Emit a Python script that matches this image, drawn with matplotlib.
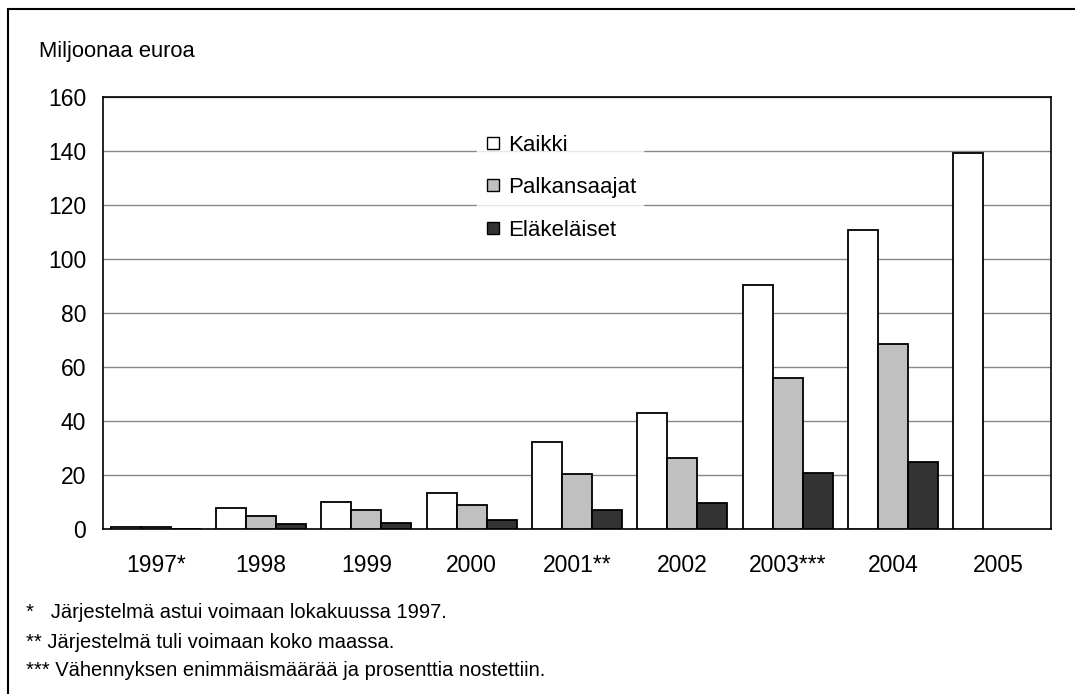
import matplotlib
matplotlib.use("Agg")
import matplotlib.pyplot as plt
from matplotlib.patches import Rectangle
from matplotlib.lines import Line2D
import numpy as np

plt.rcParams['font.family'] = ['Liberation Sans', 'DejaVu Sans']

years = ["1997*", "1998", "1999", "2000", "2001**", "2002", "2003***", "2004", "2005"]
kaikki = [0.8, 7.7, 10.0, 13.4, 32.4, 43.0, 90.5, 110.7, 139.4]
palkansaajat = [0.6, 5.0, 7.2, 9.0, 20.5, 26.4, 56.1, 68.5, np.nan]
elakelaiset = [0.0, 2.0, 2.2, 3.4, 7.2, 9.7, 20.6, 25.0, np.nan]
series_names = ["Kaikki", "Palkansaajat", "Eläkeläiset"]
colors = ["#ffffff", "#c0c0c0", "#333333"]
footnotes = ["*   Järjestelmä astui voimaan lokakuussa 1997.",
             "** Järjestelmä tuli voimaan koko maassa.",
             "*** Vähennyksen enimmäismäärää ja prosenttia nostettiin."]

fig = plt.figure(figsize=(10.75, 6.94), dpi=100)
fig.patches.append(Rectangle((8/1075, -0.1), 1.2, 1 - 9/694 + 0.1, transform=fig.transFigure,
                             fill=False, edgecolor='black', linewidth=1.5))

ax = fig.add_axes([103/1075, 1 - 529/694, (1051 - 103)/1075, (529 - 97)/694])
x = np.arange(len(years))
w = 0.285
for i, (vals, c, name) in enumerate(zip([kaikki, palkansaajat, elakelaiset], colors, series_names)):
    ax.bar(x + (i - 1) * w, vals, width=w, color=c, edgecolor='black', linewidth=1.3, label=name, zorder=3)

ax.set_xlim(-0.5, len(years) - 0.5)
ax.set_ylim(0, 160)
ax.set_yticks(range(0, 161, 20))
ax.set_xticks(x)
ax.set_xticklabels(years)
ax.tick_params(axis='x', length=0, pad=18, labelsize=16.5)
ax.tick_params(axis='y', length=0, pad=12, labelsize=16.5)
ax.yaxis.grid(True, color='#888888', linewidth=1, zorder=0)
ax.set_axisbelow(True)
for s in ax.spines.values():
    s.set_linewidth(1.2)
    s.set_color('black')

handles = [Line2D([], [], marker='s', linestyle='none', markersize=8.5, markerfacecolor=c,
                  markeredgecolor='black', markeredgewidth=1) for c in colors]
leg = ax.legend(handles, series_names, loc='upper left',
                bbox_to_anchor=((477 - 103) / 948, (529 - 128) / 432),
                frameon=True, fontsize=16, labelspacing=0.97, handletextpad=0.3,
                handlelength=0.8, borderpad=0.3, borderaxespad=0, fancybox=False)
leg.get_frame().set_edgecolor('white')
leg.get_frame().set_facecolor('white')
leg.set_zorder(5)

fig.text(39/1075, 1 - 52/694, "Miljoonaa euroa", fontsize=15.8, va='center', ha='left')
for k, yy in enumerate([612, 642, 671]):
    fig.text(26/1075, 1 - yy/694, footnotes[k], fontsize=14.5, va='center', ha='left')

fig.savefig("out.png", dpi=100)
